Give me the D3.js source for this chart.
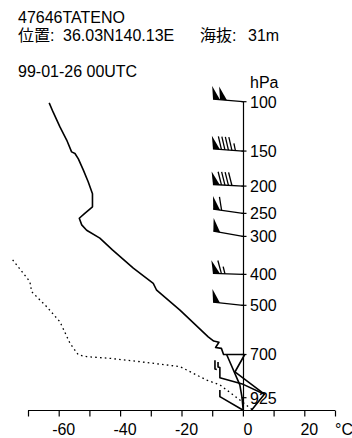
<!DOCTYPE html>
<html><head><meta charset="utf-8">
<script src="https://cdn.jsdelivr.net/npm/d3@7"></script>
<style>
body{margin:0;background:#fff}
svg{display:block}
text{font-family:"Liberation Sans","Noto Sans CJK JP",sans-serif;font-size:16px;fill:#000}
</style>
</head><body><svg id="c" width="352" height="438"></svg>
<script>
// ---- data ----
const stationName = "47646TATENO";
const posLabel = "位置:";
const posValue = "36.03N140.13E";
const altLabel = "海抜:";
const altValue = "31m";
const obsTime = "99-01-26 00UTC";

const pressureTicks = [100,150,200,250,300,400,500,700,925];
const tempTicks = [-70,-60,-50,-40,-30,-20,-10,0,10,20,30];
const tempTickLabels = [-60,-40,-20,0,20];

// temperature profile (hPa, degC)
const tempP = [101,109,123,137,151,153,160,175,193,213,237,250,260,274,286,304,333,382,427,449,517,622,640,645,668,672,700,700];
const tempT = [-63.1,-61.8,-59.6,-57.4,-55.8,-54.7,-53.6,-52,-50.4,-49,-49,-51.5,-53.3,-52.5,-50.9,-46.6,-42.5,-35.7,-29.2,-28.1,-20.5,-11.3,-9.5,-7.8,-8.9,-7.0,-6.3,0.5];
// lower-level extra solid traces
const trace2P = [700,853,922,1000];
const trace2T = [-5.3,-1.0,-0.3,0.1];
const trace3P = [700,785,905,1000];
const trace3T = [0.6,-2.6,7.0,2.8];
const trace4P = [727,770,772];
const trace4T = [-9.1,-9.1,-8.5];
const trace5P = [735,760,762,815,850,905];
const trace5T = [-8.1,-8.1,-7.5,-7.5,0.1,7.0];
const trace6P = [881,919,1000];
const trace6T = [-7.5,-7.5,0.1];
// dew point (dotted)
const dewP = [359,422,454,505,561,650,702,710,718,734,758,775,827,853,881,938,978,1000];
const dewT = [-75,-69.4,-68.8,-63.9,-59.6,-56.3,-53.6,-50.9,-43.3,-33.5,-20.5,-18.3,-11.8,-7.5,-5.3,-1.0,1.7,3.3];
// winds
const windP = [100,150,200,250,300,400,500];
const windSpd = [100,95,90,60,50,65,50];
const windDir = [275,274,273,278,280,272,276];

// ---- scales ----
function stdHeight(p){
  if (p < 226.32) return 11000 + 6341.6*Math.log(226.32/p);
  return 44330.8*(1 - Math.pow(p/1013.25, 0.190263));
}
const x = d3.scaleLinear().domain([-70,30]).range([28,335]);
const hy = d3.scaleLinear().domain([stdHeight(100), stdHeight(925)]).range([101.7,397.7]);
const y = p => hy(stdHeight(p));

const svg = d3.select("#c");

// header
svg.append("text").attr("x",18).attr("y",23).text(stationName);
const l2 = svg.append("text").attr("y",41);
l2.append("tspan").attr("x",18).text(posLabel);
l2.append("tspan").attr("x",63).text(posValue);
l2.append("tspan").attr("x",200).text(altLabel);
l2.append("tspan").attr("x",248).text(altValue);
svg.append("text").attr("x",18).attr("y",77).text(obsTime);

const x0 = Math.round(x(0)) + 0.5;
const yBot = Math.round(y(1000)) + 0.5;

// vertical pressure axis
svg.append("line").attr("x1",x0).attr("x2",x0).attr("y1",y(100)).attr("y2",yBot)
  .attr("stroke","#000").attr("stroke-width",1.2);
svg.append("text").attr("x",250).attr("y",88).text("hPa");
pressureTicks.forEach(p=>{
  svg.append("line").attr("x1",x0-2).attr("x2",x0+3).attr("y1",y(p)).attr("y2",y(p))
    .attr("stroke","#000").attr("stroke-width",1.2);
  svg.append("text").attr("x",250).attr("y",y(p)+6).text(p);
});

// bottom temperature axis
const ax = svg.append("g").attr("transform",`translate(0,${yBot})`)
  .call(d3.axisBottom(x).tickValues(tempTicks).tickSize(6).tickFormat(""));
ax.select(".domain").attr("stroke","#000").attr("stroke-width",1.2).attr("d",`M${x(-70)},0H${x(30)}`);
ax.selectAll(".tick line").attr("stroke","#000").attr("stroke-width",1.2);
tempTickLabels.forEach(t=>{
  svg.append("text").attr("x",x(t)+5).attr("y",435).attr("text-anchor","middle").text(t);
});
svg.append("text").attr("x",x(30)).attr("y",435).text("°C");

// profiles
const line = d3.line().x(d=>x(d[1])).y(d=>y(d[0]));
const zip = (P,T)=>P.map((p,i)=>[p,T[i]]);
[[tempP,tempT],[trace2P,trace2T],[trace3P,trace3T],[trace4P,trace4T],[trace5P,trace5T],[trace6P,trace6T]].forEach(([P,T])=>{
  svg.append("path").attr("d",line(zip(P,T))).attr("fill","none")
    .attr("stroke","#000").attr("stroke-width",1.6).attr("stroke-linejoin","round");
});
svg.append("path").attr("d",line(zip(dewP,dewT))).attr("fill","none")
  .attr("stroke","#000").attr("stroke-width",1.3).attr("stroke-dasharray","1.6,3.2");

// wind barbs
windP.forEach((p,i)=>{
  const sx = x(0), sy = y(p);
  const a = windDir[i]*Math.PI/180;
  const u = [Math.sin(a), -Math.cos(a)];
  const n = [-u[1], u[0]];
  const L = 30;
  const P = (d, nn=0, uu=0) => [sx + u[0]*(d+uu) + n[0]*nn, sy + u[1]*(d+uu) + n[1]*nn];
  const g = svg.append("g");
  g.append("line").attr("x1",sx).attr("y1",sy).attr("x2",P(L)[0]).attr("y2",P(L)[1])
    .attr("stroke","#000").attr("stroke-width",1.3);
  let s = Math.round(windSpd[i]/5)*5;
  let d = L;
  while (s >= 50){
    g.append("polygon").attr("points",[P(d),P(d,13,2),P(d-7)].map(q=>q.join(",")).join(" ")).attr("fill","#000");
    d -= 7; s -= 50;
  }
  if (d < L) d -= 1.5;
  while (s >= 10){
    const a1=P(d), a2=P(d,13,4);
    g.append("line").attr("x1",a1[0]).attr("y1",a1[1]).attr("x2",a2[0]).attr("y2",a2[1]).attr("stroke","#000").attr("stroke-width",1.3);
    d -= 3.5; s -= 10;
  }
  if (s >= 5){
    const a1=P(d), a2=P(d,7,2);
    g.append("line").attr("x1",a1[0]).attr("y1",a1[1]).attr("x2",a2[0]).attr("y2",a2[1]).attr("stroke","#000").attr("stroke-width",1.3);
  }
});
</script>
</body></html>
